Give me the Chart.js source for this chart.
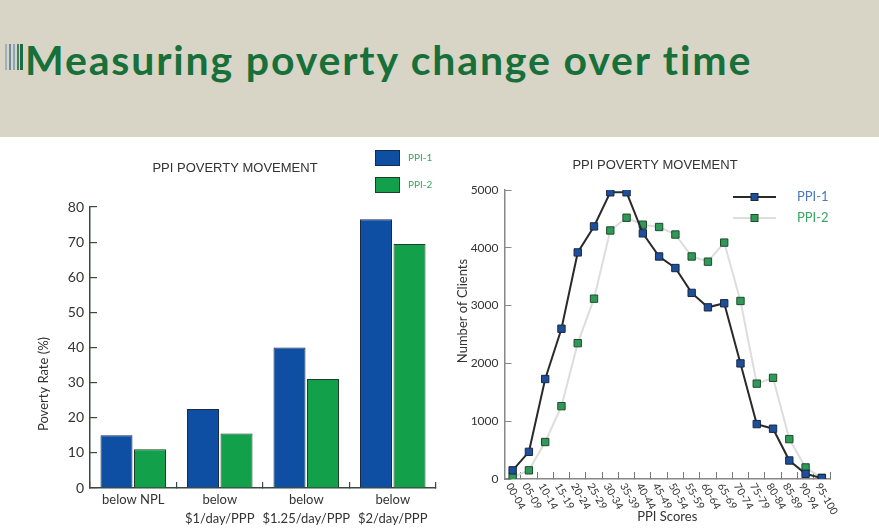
<!DOCTYPE html>
<html>
<head>
<meta charset="utf-8">
<script src="https://cdn.jsdelivr.net/npm/chart.js@4.4.1/dist/chart.umd.min.js"></script>
<style>
  html, body { margin: 0; padding: 0; background: #fff; }
  body { width: 879px; height: 529px; position: relative; overflow: hidden; }
  .band { position: absolute; left: 0; top: 0; width: 879px; height: 137px; background: #d8d5c6; }
  .band h1 {
    position: absolute; left: 25px; top: 36px; margin: 0;
    font: 700 41px/48px Lato, sans-serif; color: #17703a; white-space: nowrap;
  }
  .stripes { position: absolute; left: 5px; top: 44px; height: 26px; }
  .stripes span { position: absolute; top: 0; width: 2px; height: 100%; }
  #leftBox { position: absolute; left: 0; top: 140px; width: 450px; height: 389px; }
  #rightBox { position: absolute; left: 450px; top: 140px; width: 429px; height: 389px; }
</style>
</head>
<body>
<div class="band">
  <div class="stripes">
    <span style="left:0;background:#9fb0bb"></span>
    <span style="left:4px;background:#6d8aa3"></span>
    <span style="left:8px;background:#8ea4b5"></span>
    <span style="left:12px;background:#3f7f62"></span>
    <span style="left:15px;background:#1d6b45;width:3px"></span>
  </div>
  <h1 id="headline">Measuring poverty change over time</h1>
</div>
<div id="leftBox"><canvas id="rateChart"></canvas></div>
<div id="rightBox"><canvas id="scoreChart"></canvas></div>
<script>
// left chart: poverty rate per poverty line
const rateLines = [['below NPL'], ['below', '$1/day/PPP'], ['below', '$1.25/day/PPP'], ['below', '$2/day/PPP']];
const ratePpi1 = [15, 22.5, 40, 76.5];
const ratePpi2 = [11, 15.5, 31, 69.5];

// right chart: clients per PPI score band
const scoreBands = ['00-04', '05-09', '10-14', '15-19', '20-24', '25-29', '30-34', '35-39', '40-44', '45-49',
  '50-54', '55-59', '60-64', '65-69', '70-74', '75-79', '80-84', '85-89', '90-94', '95-100'];
const clientsPpi1 = [150, 470, 1730, 2600, 3920, 4370, 4960, 4960, 4250, 3850,
  3650, 3220, 2970, 3040, 2000, 950, 870, 320, 90, 15];
const clientsPpi2 = [30, 150, 640, 1260, 2350, 3120, 4300, 4520, 4400, 4360,
  4230, 3850, 3760, 4090, 3080, 1650, 1750, 690, 200, 20];

// stretch the headline to the width it has in the slide
const headline = document.getElementById('headline');
const natural = headline.getBoundingClientRect().width;
headline.style.letterSpacing = ((726 - natural) / (headline.textContent.length - 1)) + 'px';

Chart.defaults.font.family = 'Lato, sans-serif';
Chart.defaults.color = '#333';
Chart.defaults.animation = false;

// free text (chart titles, rotated axis captions) at the place the slide has it
const notes = {
  id: 'notes',
  afterDraw(chart, args, opts) {
    const { ctx } = chart;
    opts.items.forEach((n) => {
      ctx.save();
      ctx.translate(n.x, n.y);
      ctx.rotate((n.angle || 0) * Math.PI / 180);
      ctx.font = n.font;
      ctx.fillStyle = n.color || '#333';
      ctx.textAlign = 'center';
      ctx.textBaseline = 'middle';
      ctx.fillText(n.text, 0, 0);
      ctx.restore();
    });
  }
};

// stacked box legend (left chart)
const boxKey = {
  id: 'boxKey',
  afterDraw(chart, args, opts) {
    const { ctx } = chart;
    ctx.save();
    chart.data.datasets.forEach((ds, i) => {
      const y = opts.y + i * opts.gap;
      ctx.fillStyle = ds.backgroundColor;
      ctx.fillRect(opts.x, y, opts.w, opts.h);
      ctx.strokeStyle = ds.borderColor;
      ctx.lineWidth = 1;
      ctx.strokeRect(opts.x + 0.5, y + 0.5, opts.w - 1, opts.h - 1);
      ctx.fillStyle = opts.color;
      ctx.font = opts.font;
      ctx.textBaseline = 'middle';
      ctx.fillText(ds.label, opts.x + opts.w + opts.pad, y + opts.h / 2);
    });
    ctx.restore();
  }
};

// line + marker legend (right chart)
const lineKey = {
  id: 'lineKey',
  afterDraw(chart, args, opts) {
    const { ctx } = chart;
    ctx.save();
    chart.data.datasets.forEach((ds, i) => {
      const y = opts.y + i * opts.gap;
      ctx.strokeStyle = ds.borderColor;
      ctx.lineWidth = ds.borderWidth;
      ctx.beginPath();
      ctx.moveTo(opts.x, y);
      ctx.lineTo(opts.x + opts.len, y);
      ctx.stroke();
      const m = opts.marker;
      const cx = opts.x + opts.len / 2;
      ctx.fillStyle = ds.pointBackgroundColor;
      ctx.fillRect(cx - m / 2, y - m / 2, m, m);
      ctx.strokeStyle = ds.pointBorderColor;
      ctx.lineWidth = 1;
      ctx.strokeRect(cx - m / 2, y - m / 2, m, m);
      ctx.fillStyle = opts.colors[i];
      ctx.font = opts.font;
      ctx.textBaseline = 'middle';
      ctx.fillText(ds.label, opts.x + opts.len + opts.pad, y);
    });
    ctx.restore();
  }
};

// slanted category labels, reading downwards to the right
const slantLabels = {
  id: 'slantLabels',
  afterDraw(chart, args, opts) {
    const { ctx } = chart;
    const x = chart.scales.x;
    ctx.save();
    ctx.font = opts.font;
    ctx.fillStyle = opts.color;
    ctx.textAlign = 'left';
    ctx.textBaseline = 'middle';
    x.getLabels().forEach((label, i) => {
      ctx.save();
      ctx.translate(x.getPixelForValue(i) + opts.dx, x.top + opts.dy);
      ctx.rotate(opts.angle * Math.PI / 180);
      ctx.fillText(label, 0, 0);
      ctx.restore();
    });
    ctx.restore();
  }
};

new Chart(document.getElementById('rateChart'), {
  type: 'bar',
  data: {
    labels: rateLines,
    datasets: [{
      label: 'PPI-1',
      data: ratePpi1,
      backgroundColor: '#0f4fa3',
      borderColor: '#1b2b45',
      borderWidth: 1,
      categoryPercentage: 0.775,
      barPercentage: 0.955
    },
    {
      label: 'PPI-2',
      data: ratePpi2,
      backgroundColor: '#13a04b',
      borderColor: '#1d3d2b',
      borderWidth: 1,
      categoryPercentage: 0.775,
      barPercentage: 0.955
    }]
  },
  options: {
    responsive: true,
    maintainAspectRatio: false,
    layout: { padding: { left: 34, right: 14, top: 67, bottom: 0 } },
    scales: {
      x: {
        afterFit(scale) { scale.height = 41; },
        border: { color: '#3a4a3e', width: 1.5 },
        grid: { display: true, drawOnChartArea: false, tickLength: -6, color: '#3a4a3e', lineWidth: 1.2 },
        ticks: { font: { size: 13, lineHeight: 1.5 }, color: '#333', padding: 8, maxRotation: 0, autoSkip: false }
      },
      y: {
        min: 0,
        max: 80,
        afterFit(scale) { scale.width = 56; },
        border: { color: '#3a4a3e', width: 1.5 },
        grid: { display: true, drawOnChartArea: false, tickLength: -7, color: '#3a4a3e', lineWidth: 1.2 },
        ticks: { stepSize: 10, font: { size: 14 }, color: '#333', padding: 13 }
      }
    },
    plugins: {
      legend: { display: false },
      tooltip: { enabled: false },
      notes: {
        items: [
          { text: 'PPI POVERTY MOVEMENT', x: 235, y: 28, font: '13px "Liberation Sans", Arial, sans-serif' },
          { text: 'Poverty Rate (%)', x: 44, y: 244, angle: -90, font: '13px Lato, sans-serif' }
        ]
      },
      boxKey: { x: 375, y: 10, gap: 27, w: 25, h: 16, pad: 8, font: '10px Lato, sans-serif', color: '#3aa35f' }
    }
  },
  plugins: [notes, boxKey]
});

new Chart(document.getElementById('scoreChart'), {
  type: 'line',
  data: {
    labels: scoreBands,
    datasets: [{
      label: 'PPI-1',
      data: clientsPpi1,
      borderColor: '#2a2a2a',
      borderWidth: 2,
      pointStyle: 'rect',
      pointRadius: 5.2,
      pointBackgroundColor: '#1d4f9a',
      pointBorderColor: '#1a2840',
      pointBorderWidth: 1,
      tension: 0
    },
    {
      label: 'PPI-2',
      data: clientsPpi2,
      borderColor: '#dddddd',
      borderWidth: 2,
      pointStyle: 'rect',
      pointRadius: 5.2,
      pointBackgroundColor: '#2f9a57',
      pointBorderColor: '#1e4a2c',
      pointBorderWidth: 1,
      tension: 0
    }]
  },
  options: {
    responsive: true,
    maintainAspectRatio: false,
    layout: { padding: { left: 10, right: 49, top: 50, bottom: 0 } },
    scales: {
      x: {
        offset: true,
        afterFit(scale) { scale.height = 50; },
        border: { color: '#888', width: 1.5 },
        grid: { display: true, offset: true, drawOnChartArea: false, tickLength: -7, color: '#777' },
        ticks: { display: false },
        title: { display: true, text: 'PPI Scores', font: { size: 13 }, color: '#333', padding: { top: 0, bottom: 4 } }
      },
      y: {
        min: 0,
        max: 5000,
        afterFit(scale) { scale.width = 44.5; },
        border: { color: '#888', width: 1.5 },
        grid: { display: true, drawOnChartArea: false, tickLength: -7, color: '#888' },
        ticks: { stepSize: 1000, font: { size: 12 }, color: '#333', padding: 13, callback: (v) => String(v) }
      }
    },
    plugins: {
      legend: { display: false },
      tooltip: { enabled: false },
      notes: {
        items: [
          { text: 'PPI POVERTY MOVEMENT', x: 205, y: 25, font: '13px "Liberation Sans", Arial, sans-serif' },
          { text: 'Number of Clients', x: 13, y: 171, angle: -90, font: '13px Lato, sans-serif' }
        ]
      },
      lineKey: { x: 283, y: 57, gap: 21, len: 43, marker: 7, pad: 21, font: '13px Lato, sans-serif', colors: ['#4a78c0', '#3aa35f'] },
      slantLabels: { font: '10.5px Lato, sans-serif', color: '#333', angle: 60, dx: -4, dy: 5 }
    }
  },
  plugins: [notes, lineKey, slantLabels]
});
</script>
</body>
</html>
